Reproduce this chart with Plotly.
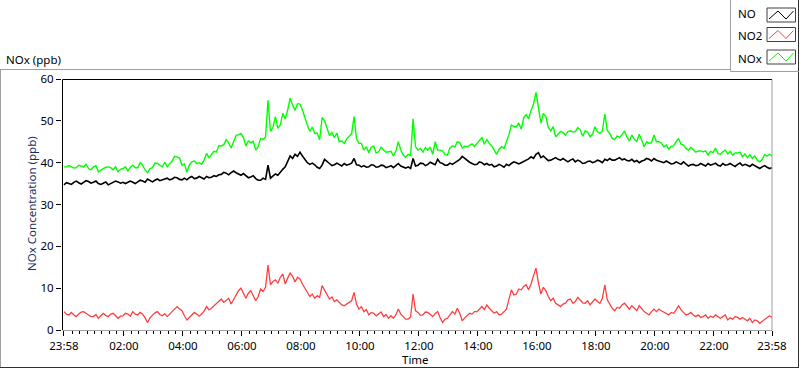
import pandas as pd
import plotly.graph_objects as go

# ---- data (5-minute samples starting 23:58; one row per hour) ----
start = pd.Timestamp("2021-01-01 23:58")
minutes = list(range(0, 1441, 5))

no_ppb = [
    34.7, 35.2, 35.0, 34.8, 35.3, 35.6, 35.2, 34.9, 35.3, 35.7, 35.5, 35.1,
    35.3, 35.6, 35.0, 34.8, 35.1, 35.4, 34.7, 35.0, 35.3, 35.6, 35.4, 35.1,
    35.3, 35.0, 35.3, 35.6, 35.3, 35.0, 35.4, 35.8, 35.6, 35.3, 36.1, 35.7,
    35.4, 35.8, 36.1, 35.7, 35.9, 36.2, 36.3, 35.9, 36.1, 36.5, 36.4, 36.0,
    35.9, 36.3, 35.9, 36.4, 36.7, 36.2, 36.3, 36.7, 36.4, 36.1, 36.7, 36.4,
    36.5, 36.9, 36.7, 37.1, 37.2, 37.7, 37.5, 37.1, 37.6, 38.0, 37.6, 37.3,
    37.0, 37.4, 36.8, 36.4, 36.6, 36.9, 36.2, 35.8, 35.8, 36.3, 36.0, 39.4,
    36.3, 36.8, 37.3, 37.0, 37.8, 38.4, 39.0, 40.2, 41.6, 41.0, 42.0, 41.5,
    42.5, 41.6, 40.8, 40.0, 39.6, 39.9, 39.5, 38.9, 38.6, 39.4, 40.8, 40.2,
    39.8, 39.3, 39.5, 39.9, 39.5, 39.2, 39.8, 39.4, 39.6, 39.9, 41.0, 39.5,
    39.4, 39.0, 39.3, 38.9, 39.0, 39.5, 39.4, 38.9, 39.0, 39.4, 39.3, 38.8,
    39.0, 39.3, 38.8, 39.2, 39.8, 39.2, 39.0, 38.7, 39.0, 38.6, 41.0, 39.2,
    39.4, 39.9, 39.8, 39.3, 39.6, 40.1, 39.8, 39.5, 40.8, 40.0, 39.8, 39.4,
    39.4, 39.9, 39.6, 40.0, 40.2, 40.8, 41.5, 41.0, 40.6, 40.1, 39.8, 39.5,
    39.6, 40.2, 40.0, 39.5, 39.8, 39.4, 39.6, 39.0, 39.2, 39.6, 39.3, 38.9,
    39.6, 39.3, 39.8, 40.2, 40.0, 39.7, 40.0, 40.3, 40.4, 40.9, 41.4, 41.0,
    42.0, 42.4, 41.2, 41.6, 41.0, 40.5, 40.6, 41.0, 41.2, 40.8, 40.6, 41.0,
    40.6, 40.2, 40.6, 40.9, 40.2, 40.6, 40.3, 39.8, 39.9, 40.3, 40.4, 40.0,
    40.2, 40.6, 40.4, 40.0, 40.8, 40.5, 41.0, 40.6, 40.6, 41.0, 41.2, 40.7,
    40.9, 40.5, 40.4, 40.8, 40.2, 40.5, 40.0, 40.4, 40.6, 41.0, 40.8, 40.4,
    41.0, 40.6, 40.4, 40.1, 40.0, 40.4, 40.0, 39.7, 39.8, 40.2, 39.9, 39.6,
    40.2, 39.8, 39.2, 39.5, 39.6, 39.3, 39.4, 39.8, 39.5, 39.2, 39.8, 39.4,
    39.6, 39.9, 39.4, 39.2, 39.8, 39.4, 39.5, 39.8, 39.4, 39.1, 39.6, 39.9,
    39.3, 39.6, 39.4, 39.1, 39.6, 39.2, 38.9, 38.6, 39.0, 39.3, 38.9, 38.6,
    38.8,
]

no2_ppb = [
    4.4, 3.8, 3.6, 4.2, 3.6, 3.2, 3.8, 4.3, 4.4, 3.9, 3.6, 3.2,
    3.2, 3.7, 2.8, 3.4, 4.0, 3.5, 3.2, 3.8, 4.0, 3.4, 2.8, 3.3,
    3.4, 4.0, 3.8, 3.3, 4.4, 3.8, 3.6, 4.2, 3.8, 2.9, 1.8, 2.9,
    3.6, 4.1, 4.4, 3.7, 3.4, 3.9, 3.2, 3.8, 4.4, 5.0, 5.6, 5.1,
    4.6, 3.4, 2.4, 3.0, 3.6, 4.2, 3.8, 3.3, 3.8, 4.5, 5.6, 4.8,
    5.2, 5.8, 6.4, 7.0, 7.4, 6.6, 7.0, 7.6, 6.2, 7.2, 8.5, 9.4,
    10.0, 8.6, 7.6, 8.8, 9.4, 8.2, 7.0, 8.0, 9.8, 9.2, 10.2, 15.5,
    10.8, 11.6, 12.0, 11.2, 12.6, 13.4, 11.0, 12.4, 13.6, 12.8, 11.5, 12.6,
    12.2, 11.0, 10.0, 9.0, 8.0, 8.6, 7.6, 8.2, 7.8, 10.6, 9.4, 8.2,
    7.4, 7.9, 6.8, 7.2, 6.5, 6.0, 5.8, 6.3, 6.6, 7.0, 9.0, 6.2,
    5.0, 5.6, 4.4, 4.9, 3.6, 4.2, 4.0, 3.4, 3.8, 4.3, 3.2, 3.7,
    2.8, 3.4, 2.8, 3.6, 5.0, 3.8, 3.2, 2.6, 2.6, 3.1, 8.6, 4.6,
    4.2, 3.5, 3.6, 4.3, 4.2, 3.6, 3.2, 3.9, 4.4, 3.0, 1.8, 2.6,
    2.8, 3.6, 4.4, 3.8, 5.2, 4.0, 2.2, 2.9, 3.4, 4.0, 3.8, 4.4,
    4.4, 5.0, 5.6, 4.9, 6.0, 5.2, 4.6, 4.0, 4.4, 3.6, 3.8, 4.5,
    5.0, 7.4, 9.6, 8.4, 8.6, 9.8, 9.6, 10.4, 10.8, 9.6, 11.0, 13.0,
    14.8, 11.2, 8.6, 10.2, 9.4, 8.0, 7.0, 7.6, 6.4, 6.0, 5.6, 6.2,
    6.4, 7.2, 7.4, 6.4, 6.8, 7.8, 7.2, 6.5, 6.4, 7.0, 6.0, 6.8,
    7.4, 6.8, 6.4, 7.6, 10.8, 7.2, 6.0, 5.2, 4.6, 5.4, 5.2, 6.0,
    6.4, 5.6, 5.0, 5.8, 5.2, 4.6, 5.8, 5.0, 4.4, 4.0, 3.6, 4.4,
    5.0, 4.4, 5.0, 4.6, 4.2, 3.8, 3.6, 4.2, 4.0, 4.8, 5.8, 4.8,
    4.2, 3.6, 3.8, 4.2, 3.6, 3.2, 3.6, 3.0, 3.2, 3.6, 2.8, 3.3,
    3.0, 3.6, 3.2, 2.8, 3.2, 3.6, 2.4, 2.9, 2.6, 3.2, 3.0, 2.6,
    3.0, 2.5, 2.2, 2.8, 1.8, 2.4, 2.2, 1.6, 2.0, 2.6, 3.0, 3.4,
    3.0,
]

nox_ppb = [
    39.0, 39.0, 39.3, 39.0, 38.7, 38.8, 39.4, 39.2, 39.0, 39.6, 38.6, 38.3,
    39.0, 39.3, 37.8, 38.2, 38.6, 38.9, 39.0, 38.8, 38.3, 39.0, 37.8, 38.4,
    38.6, 39.0, 38.0, 38.9, 39.4, 38.8, 38.8, 40.0, 39.4, 38.2, 37.6, 38.6,
    38.8, 39.9, 39.8, 39.4, 39.0, 40.1, 39.0, 39.7, 40.4, 41.5, 41.4, 41.1,
    39.4, 39.7, 37.7, 39.4, 40.2, 40.4, 39.8, 40.0, 39.6, 40.6, 42.2, 41.2,
    42.0, 42.7, 42.5, 44.1, 44.0, 44.3, 45.5, 44.7, 43.5, 45.2, 46.5, 46.7,
    47.0, 46.0, 44.0, 45.2, 44.8, 45.1, 43.0, 43.8, 45.8, 45.5, 46.2, 54.9,
    47.5, 48.4, 51.0, 48.2, 49.0, 51.8, 50.5, 52.6, 55.4, 53.8, 52.5, 54.1,
    54.0, 52.6, 50.5, 49.0, 47.5, 48.5, 47.0, 47.1, 45.5, 50.8, 50.0, 48.4,
    46.5, 47.2, 46.0, 47.1, 45.0, 45.2, 44.6, 45.7, 46.4, 46.9, 51.0, 45.7,
    44.6, 44.6, 43.0, 43.8, 42.4, 43.7, 44.0, 42.3, 42.6, 43.7, 43.0, 42.5,
    42.6, 42.7, 41.6, 42.8, 45.0, 43.0, 41.8, 41.3, 42.0, 41.7, 50.5, 43.8,
    43.0, 43.4, 42.5, 43.6, 43.0, 43.7, 42.0, 45.0, 43.0, 43.0, 42.8, 42.0,
    41.8, 43.5, 44.0, 43.8, 45.0, 44.8, 43.5, 43.9, 43.8, 44.1, 44.5, 43.9,
    44.7, 45.2, 46.0, 44.4, 45.5, 44.6, 44.0, 43.0, 42.0, 43.2, 43.8, 43.4,
    45.0, 46.7, 49.0, 48.6, 48.6, 49.5, 48.0, 50.7, 51.5, 50.5, 52.5, 54.0,
    56.8, 53.6, 49.5, 51.8, 51.0, 48.5, 47.6, 48.6, 46.2, 46.8, 47.5, 47.2,
    46.6, 47.4, 47.6, 47.3, 47.4, 48.4, 47.8, 46.3, 47.6, 47.3, 46.2, 46.8,
    48.6, 47.4, 47.0, 47.6, 51.6, 47.7, 47.0, 45.8, 45.5, 46.4, 46.0, 46.7,
    47.6, 46.1, 45.2, 46.6, 45.6, 45.1, 46.8, 45.4, 43.8, 45.0, 44.6, 44.8,
    46.6, 45.0, 45.0, 44.7, 43.8, 44.2, 43.2, 43.9, 44.0, 45.0, 45.8, 44.4,
    44.2, 43.4, 43.0, 43.7, 43.2, 42.5, 42.8, 42.8, 42.6, 42.8, 41.8, 42.7,
    42.4, 43.5, 42.2, 42.0, 42.6, 43.0, 42.1, 42.7, 41.8, 42.3, 42.3, 42.5,
    41.4, 42.1, 41.2, 41.9, 41.0, 41.6, 40.6, 40.2, 40.8, 41.9, 41.6, 42.0,
    41.6,
]

tick_labels = ["23:58", "02:00", "04:00", "06:00", "08:00", "10:00", "12:00",
               "14:00", "16:00", "18:00", "20:00", "22:00", "23:58"]
y_ticks = [0, 10, 20, 30, 40, 50, 60]
series_names = ["NO", "NO2", "NOx"]
series_colors = ["#000000", "#ff4040", "#00ff00"]
series_widths = [1.6, 1.3, 1.4]

# ---- build ----
times = [start + pd.Timedelta(minutes=m) for m in minutes]
end = start + pd.Timedelta(minutes=1440)
major_vals = [start] + [pd.Timestamp("2021-01-02") + pd.Timedelta(hours=h) for h in range(2, 24, 2)] + [end]
minor_vals = []
for q in range(1, 96):
    t = pd.Timestamp("2021-01-02") + pd.Timedelta(minutes=15 * q)
    if t.minute == 0 and t.hour % 2 == 0:
        continue
    minor_vals.append(t)

FONT = "Noto Sans"
W, H = 800, 369
L, R, T, B = 62, 772, 79, 330

def px(x):
    return (x - L) / (R - L)

def py(y):
    return (B - y) / (B - T)

fig = go.Figure()
for name, vals, col, wd in zip(series_names, [no_ppb, no2_ppb, nox_ppb], series_colors, series_widths):
    fig.add_trace(go.Scatter(x=times, y=vals, mode="lines", name=name,
                             line=dict(color=col, width=wd), showlegend=False))

shapes = []
def seg(x0, y0, x1, y1, color, width=1):
    shapes.append(dict(type="line", xref="paper", yref="paper",
                       x0=px(x0), y0=py(y0), x1=px(x1), y1=py(y1),
                       line=dict(color=color, width=width), layer="above"))

# outer panel
seg(0, 69.5, 730, 69.5, "#a0a0a0")
seg(0.5, 69.5, 0.5, 368, "#a0a0a0")
seg(0, 367.5, 799, 367.5, "#303030")
seg(798.5, 0, 798.5, 368, "#303030")
# legend frame
seg(730.5, 0, 730.5, 71.5, "#a0a0a0")
seg(730.5, 71.5, 799, 71.5, "#a0a0a0")
# plot frame
seg(62.5, 79.5, 62.5, 330, "#000000")
seg(62.5, 79.5, 772, 79.5, "#000000")
seg(772, 79.5, 772, 330.5, "#a0a0a0")
seg(62.5, 330.5, 772, 330.5, "#a0a0a0")

# legend icons
annotations = []
box_tops = [8, 27.5, 50]
label_ys = [13.5, 36, 58]
for name, col, top, ly in zip(series_names, series_colors, box_tops, label_ys):
    x0, x1 = 767, 795.5
    y0, y1 = top, top + 14
    shapes.append(dict(type="rect", xref="paper", yref="paper",
                       x0=px(x0), x1=px(x1), y0=py(y0), y1=py(y1),
                       line=dict(color="#404040", width=1), fillcolor="white", layer="above"))
    path = "M {} {} L {} {} L {} {} L {} {}".format(
        px(x0 + 2), py(y1 - 3), px(x0 + 11), py(y0 + 3),
        px(x0 + 19), py(y1 - 3), px(x0 + 26.5), py(y0 + 3))
    shapes.append(dict(type="path", xref="paper", yref="paper", path=path,
                       line=dict(color=col, width=1), layer="above"))
    annotations.append(dict(text=name, xref="paper", yref="paper", x=px(736), y=py(ly),
                            xanchor="left", yanchor="middle", showarrow=False,
                            font=dict(family=FONT, size=11.5, color="#000000")))

annotations.append(dict(text="NOx (ppb)", xref="paper", yref="paper", x=px(3.5), y=py(59.5),
                        xanchor="left", yanchor="middle", showarrow=False,
                        font=dict(family=FONT, size=11.5, color="#000000")))
annotations.append(dict(text="NOx Concentration (ppb)", xref="paper", yref="paper",
                        x=px(31), y=py(204), textangle=-90, xanchor="center", yanchor="middle",
                        showarrow=False, font=dict(family=FONT, size=11.5, color="#1b2f5e")))
annotations.append(dict(text="Time", xref="paper", yref="paper", x=px(415), y=py(359),
                        xanchor="center", yanchor="middle", showarrow=False,
                        font=dict(family=FONT, size=11.5, color="#000000")))

fig.update_layout(
    width=W, height=H,
    margin=dict(l=L, r=W - R, t=T, b=H - B, pad=0),
    paper_bgcolor="white", plot_bgcolor="white",
    font=dict(family=FONT, size=11.5, color="#000000"),
    shapes=shapes, annotations=annotations,
    xaxis=dict(range=[start - pd.Timedelta(minutes=4), end], showgrid=False, zeroline=False,
               showline=False, tickmode="array", tickvals=major_vals, ticktext=tick_labels,
               ticks="outside", ticklen=5, tickcolor="#000000", tickwidth=1,
               tickfont=dict(family=FONT, size=11.5, color="#000000"),
               minor=dict(tickmode="array", tickvals=minor_vals, ticks="outside",
                          ticklen=3, tickcolor="#000000", tickwidth=1, showgrid=False)),
    yaxis=dict(range=[0, 60], showgrid=False, zeroline=False, showline=False,
               tickmode="array", tickvals=y_ticks, ticks="outside", ticklen=5,
               tickcolor="#000000", tickwidth=1,
               tickfont=dict(family=FONT, size=11.5, color="#000000")),
)

fig.write_html("out.html", config={"displayModeBar": False},
               post_script="document.body.style.margin='0';document.body.style.overflow='hidden';")
